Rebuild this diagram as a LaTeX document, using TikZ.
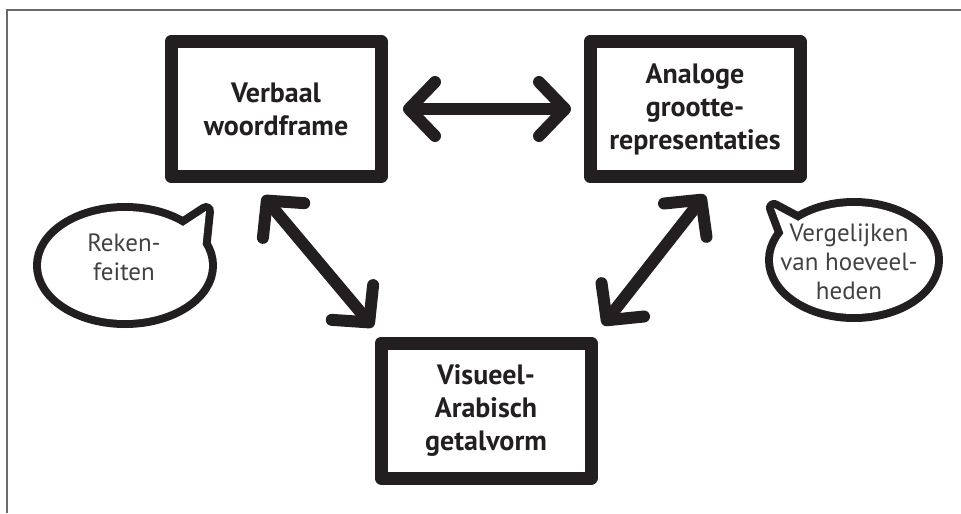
\documentclass[tikz,border=0pt]{standalone}
\usepackage{fontspec}
\setmainfont{PT Sans}
\usetikzlibrary{arrows.meta, positioning, backgrounds, shapes.geometric}
\definecolor{InkBlack}{HTML}{231F20}
\definecolor{FrameGray}{HTML}{6A6A6A}
\tikzset{
  % Box styles
  modelbox/.style={rectangle, line join=round, draw=InkBlack, line width=6.5pt, fill=white, minimum width=105pt, minimum height=67.5pt, font=\fontsize{14}{16.5}\selectfont\bfseries, align=center, text=InkBlack},
  bubbletext/.style={font=\fontsize{12.5}{14.5}\selectfont, align=center, text=InkBlack!85},
  % Arrow styles
  dblarrow/.style={{Straight Barb[round, length=13pt, width=27pt]}-{Straight Barb[round, length=13pt, width=27pt]}, line width=6pt, draw=InkBlack},
  % Bubble styles
  bubbleink/.style={draw=InkBlack, line width=8pt, line join=round},
  bubblefill/.style={fill=white}
}
\begin{document}
\begin{tikzpicture}[x=0.5pt, y=-0.5pt]
  \useasboundingbox (0,0) rectangle (961,513);
  % frame
  \draw[FrameGray, line width=0.75pt] (7,513) -- (7,10) -- (961,10);

  % Model boxes
  \node[modelbox] (vw) at (276,109) {Verbaal\\woordframe};
  \node[modelbox, right=98pt of vw] (ag) {Analoge\\grootte-\\representaties};
  \node[modelbox] (vg) at (486,410.5) {Visueel-\\Arabisch\\getalvorm};

  % Bubbles
  \node[bubbletext] (rf) at (124,257) {Reken-\\feiten};
  \node[bubbletext] (vh) at (849,262) {Vergelijken\\van hoeveel-\\heden};
  \coordinate (rfc) at (125,265.5);
  \coordinate (vhc) at (854,260);
  \begin{scope}[on background layer]
    \draw[bubbleink] (rfc) ellipse [x radius=42pt, y radius=27.25pt];
    \draw[bubbleink] (rfc) -- (180,228) -- (206,211) -- (202,250) -- cycle;
    \draw[bubbleink] (vhc) ellipse [x radius=40.5pt, y radius=27pt];
    \draw[bubbleink] (vhc) -- (804,224) -- (774,208) -- (786,240) -- cycle;
    \fill[bubblefill] (rfc) ellipse [x radius=42pt, y radius=27.25pt];
    \fill[bubblefill] (rfc) -- (180,228) -- (206,211) -- (202,250) -- cycle;
    \fill[bubblefill] (vhc) ellipse [x radius=40.5pt, y radius=27pt];
    \fill[bubblefill] (vhc) -- (804,224) -- (774,208) -- (786,240) -- cycle;
  \end{scope}

  % Arrows
  \draw[dblarrow] ([xshift=7.75pt]vw.east) -- ([xshift=-6.25pt]ag.west);
  \draw[dblarrow] ([shift={(-13,13)}]vw.south) -- ([shift={(-1.5,-9.5)}]vg.north west);
  \draw[dblarrow] ([shift={(10,12)}]ag.south) -- ([shift={(5.5,-11.5)}]vg.north east);
\end{tikzpicture}
\end{document}
